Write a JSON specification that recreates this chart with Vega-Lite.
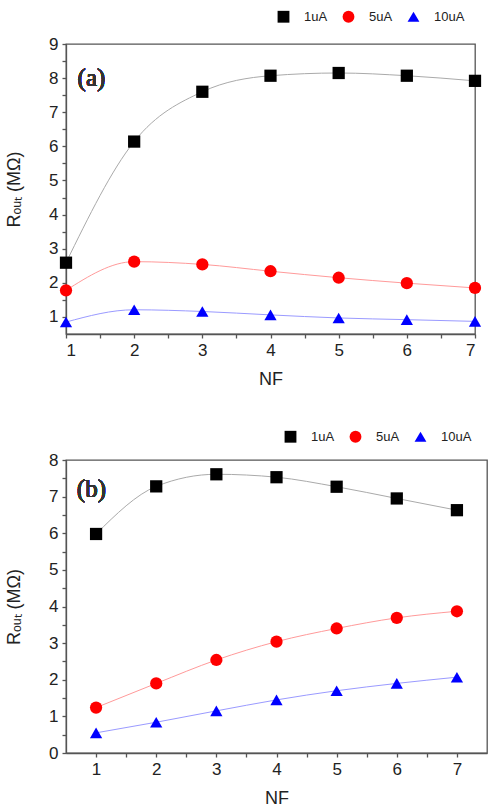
{
  "$schema": "https://vega.github.io/schema/vega-lite/v6.json",
  "padding": {"left": 4, "top": 9, "right": 0, "bottom": 0},
  "spacing": 40,
  "resolve": {"scale": {"color": "independent", "shape": "independent", "stroke": "independent"}, "legend": {"color": "independent", "shape": "independent", "stroke": "independent"}},
  "datasets": {
    "a": [
      {"NF": 1, "I": "1uA", "R": 2.59}, {"NF": 2, "I": "1uA", "R": 6.14}, {"NF": 3, "I": "1uA", "R": 7.6}, {"NF": 4, "I": "1uA", "R": 8.07}, {"NF": 5, "I": "1uA", "R": 8.15}, {"NF": 6, "I": "1uA", "R": 8.07}, {"NF": 7, "I": "1uA", "R": 7.92},
      {"NF": 1, "I": "5uA", "R": 1.78}, {"NF": 2, "I": "5uA", "R": 2.62}, {"NF": 3, "I": "5uA", "R": 2.54}, {"NF": 4, "I": "5uA", "R": 2.34}, {"NF": 5, "I": "5uA", "R": 2.15}, {"NF": 6, "I": "5uA", "R": 1.99}, {"NF": 7, "I": "5uA", "R": 1.85},
      {"NF": 1, "I": "10uA", "R": 0.85}, {"NF": 2, "I": "10uA", "R": 1.21}, {"NF": 3, "I": "10uA", "R": 1.16}, {"NF": 4, "I": "10uA", "R": 1.06}, {"NF": 5, "I": "10uA", "R": 0.97}, {"NF": 6, "I": "10uA", "R": 0.92}, {"NF": 7, "I": "10uA", "R": 0.87}
    ],
    "b": [
      {"NF": 1, "I": "1uA", "R": 5.98}, {"NF": 2, "I": "1uA", "R": 7.28}, {"NF": 3, "I": "1uA", "R": 7.61}, {"NF": 4, "I": "1uA", "R": 7.53}, {"NF": 5, "I": "1uA", "R": 7.27}, {"NF": 6, "I": "1uA", "R": 6.95}, {"NF": 7, "I": "1uA", "R": 6.63},
      {"NF": 1, "I": "5uA", "R": 1.24}, {"NF": 2, "I": "5uA", "R": 1.9}, {"NF": 3, "I": "5uA", "R": 2.54}, {"NF": 4, "I": "5uA", "R": 3.04}, {"NF": 5, "I": "5uA", "R": 3.4}, {"NF": 6, "I": "5uA", "R": 3.69}, {"NF": 7, "I": "5uA", "R": 3.87},
      {"NF": 1, "I": "10uA", "R": 0.55}, {"NF": 2, "I": "10uA", "R": 0.84}, {"NF": 3, "I": "10uA", "R": 1.15}, {"NF": 4, "I": "10uA", "R": 1.45}, {"NF": 5, "I": "10uA", "R": 1.7}, {"NF": 6, "I": "10uA", "R": 1.9}, {"NF": 7, "I": "10uA", "R": 2.07}
    ]
  },
  "config": {
    "font": "Liberation Sans",
    "view": {"stroke": "#555", "strokeWidth": 1.3},
    "axis": {
      "grid": false, "domainColor": "#555", "tickColor": "#555", "domainWidth": 1.3, "tickWidth": 1.3,
      "titleFontSize": 18, "labelFontSize": 17, "labelColor": "#222", "titleColor": "#222",
      "titleFontWeight": "normal", "labelPadding": 4, "labelOverlap": false, "tickSize": 4
    },
    "legend": {"labelFontSize": 13, "labelColor": "#222", "symbolStrokeWidth": 0, "symbolSize": 140, "columnPadding": 14, "labelOffset": 14}
  },
  "vconcat": [
    {
      "width": 409, "height": 290,
      "data": {"name": "a"},
      "encoding": {
        "x": {"field": "NF", "type": "quantitative", "scale": {"domain": [1, 7], "nice": false}, "axis": {"values": [1, 1.5, 2, 2.5, 3, 3.5, 4, 4.5, 5, 5.5, 6, 6.5, 7], "title": "NF", "titlePadding": 12, "labelOverlap": false, "labelExpr": "datum.value % 1 === 0 ? format(datum.value, 'd') : ''"}},
        "y": {"field": "R", "type": "quantitative", "scale": {"domain": [0.5, 9], "nice": false, "zero": false}, "axis": {"values": [1, 1.5, 2, 2.5, 3, 3.5, 4, 4.5, 5, 5.5, 6, 6.5, 7, 7.5, 8, 8.5, 9], "title": "Rₒᵤₜ (MΩ)", "titlePadding": 25, "labelOverlap": false, "labelExpr": "datum.value % 1 === 0 ? format(datum.value, 'd') : ''"}}
      },
      "layer": [
        {
          "mark": {"type": "line", "interpolate": "monotone", "strokeWidth": 1, "clip": false},
          "encoding": {
            "stroke": {"field": "I", "type": "nominal", "scale": {"domain": ["1uA", "5uA", "10uA"], "range": ["#aaaaaa", "#ff9a9a", "#9a9aff"]}, "legend": {"title": null, "orient": "none", "direction": "horizontal", "legendX": 211, "legendY": -34}}
          }
        },
        {
          "mark": {"type": "point", "filled": true, "size": 150, "opacity": 1, "clip": false},
          "encoding": {
            "color": {"field": "I", "type": "nominal", "scale": {"domain": ["1uA", "5uA", "10uA"], "range": ["#000000", "#ff0000", "#0000ff"]}, "legend": {"title": null, "orient": "none", "direction": "horizontal", "legendX": 211, "legendY": -34}},
            "shape": {"field": "I", "type": "nominal", "scale": {"domain": ["1uA", "5uA", "10uA"], "range": ["square", "circle", "triangle-up"]}, "legend": {"title": null, "orient": "none", "direction": "horizontal", "legendX": 211, "legendY": -34}}
          }
        },
        {
          "mark": {"type": "text", "font": "Times New Roman", "fontSize": 25, "fontWeight": "normal", "align": "left", "baseline": "middle", "fill": "#333", "strokeWidth": 0},
          "encoding": {"x": {"datum": 1.17}, "y": {"datum": 8}, "text": {"value": "(a)"}}
        }
      ]
    },
    {
      "width": 421, "height": 293,
      "data": {"name": "b"},
      "encoding": {
        "x": {"field": "NF", "type": "quantitative", "scale": {"domain": [0.5, 7.5], "nice": false}, "axis": {"values": [1, 1.5, 2, 2.5, 3, 3.5, 4, 4.5, 5, 5.5, 6, 6.5, 7], "title": "NF", "titlePadding": 12, "labelOverlap": false, "labelExpr": "datum.value % 1 === 0 ? format(datum.value, 'd') : ''"}},
        "y": {"field": "R", "type": "quantitative", "scale": {"domain": [0, 8], "nice": false}, "axis": {"values": [0, 0.5, 1, 1.5, 2, 2.5, 3, 3.5, 4, 4.5, 5, 5.5, 6, 6.5, 7, 7.5, 8], "title": "Rₒᵤₜ (MΩ)", "titlePadding": 25, "labelOverlap": false, "labelExpr": "datum.value % 1 === 0 ? format(datum.value, 'd') : ''"}}
      },
      "layer": [
        {
          "mark": {"type": "line", "interpolate": "monotone", "strokeWidth": 1},
          "encoding": {
            "stroke": {"field": "I", "type": "nominal", "scale": {"domain": ["1uA", "5uA", "10uA"], "range": ["#aaaaaa", "#ff9a9a", "#9a9aff"]}, "legend": {"title": null, "orient": "none", "direction": "horizontal", "legendX": 218, "legendY": -30}}
          }
        },
        {
          "mark": {"type": "point", "filled": true, "size": 150, "opacity": 1},
          "encoding": {
            "color": {"field": "I", "type": "nominal", "scale": {"domain": ["1uA", "5uA", "10uA"], "range": ["#000000", "#ff0000", "#0000ff"]}, "legend": {"title": null, "orient": "none", "direction": "horizontal", "legendX": 218, "legendY": -30}},
            "shape": {"field": "I", "type": "nominal", "scale": {"domain": ["1uA", "5uA", "10uA"], "range": ["square", "circle", "triangle-up"]}, "legend": {"title": null, "orient": "none", "direction": "horizontal", "legendX": 218, "legendY": -30}}
          }
        },
        {
          "mark": {"type": "text", "font": "Times New Roman", "fontSize": 25, "fontWeight": "normal", "align": "left", "baseline": "middle", "fill": "#333", "strokeWidth": 0},
          "encoding": {"x": {"datum": 0.68}, "y": {"datum": 7.2}, "text": {"value": "(b)"}}
        }
      ]
    }
  ]
}
